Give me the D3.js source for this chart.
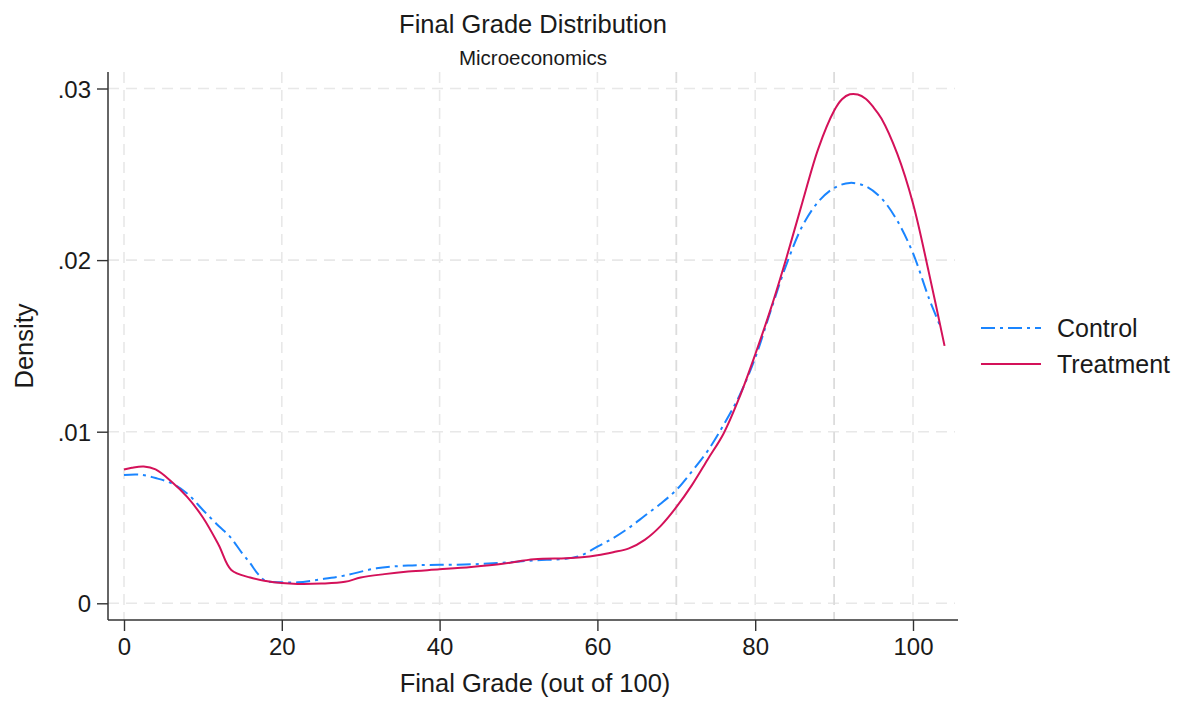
<!DOCTYPE html>
<html>
<head>
<meta charset="utf-8">
<script src="https://cdn.jsdelivr.net/npm/d3@7"></script>
<style>
  body { margin: 0; background: #fff; }
  text { font-family: "Liberation Sans", Arial, sans-serif; fill: #1a1a1a; }
</style>
</head>
<body>
<script>
// values
var xTicks = [0, 20, 40, 60, 80, 100];
var xLines = [70, 90];
var yTicks = [0, 0.01, 0.02, 0.03];
var yTickLabels = ["0", ".01", ".02", ".03"];
var seriesNames = ["Control", "Treatment"];

var controlGrade = [0, 2, 4, 6, 8, 10, 12, 13.4, 15, 16, 17, 18, 20, 22, 25, 28, 32, 36, 40, 44, 48, 52, 56, 58, 60, 62, 64, 66, 68, 70, 72, 74, 76, 78, 80, 82, 84, 86, 88, 90, 92, 94, 96, 98, 100, 102, 103.4];
var controlDensity = [0.00748, 0.0075, 0.0073, 0.0070, 0.0064, 0.00544, 0.0045, 0.0039, 0.0029, 0.00233, 0.0017, 0.0013, 0.00122, 0.00122, 0.0014, 0.00162, 0.00204, 0.0022, 0.00224, 0.00227, 0.00236, 0.0025, 0.0026, 0.0028, 0.0033, 0.0038, 0.0044, 0.0051, 0.0058, 0.0066, 0.0077, 0.0089, 0.0104, 0.0121, 0.0143, 0.0171, 0.0198, 0.0220, 0.0234, 0.0242, 0.0245, 0.0243, 0.0236, 0.0223, 0.0204, 0.0178, 0.0162];

var treatmentGrade = [0, 1, 2.5, 4, 6, 8, 10, 12, 13.6, 16, 18, 20, 22, 25, 28, 30, 33, 36, 40, 44, 48, 52, 56, 58, 60, 62, 64, 66, 68, 70, 72, 74, 76, 78, 80, 82, 84, 86, 88, 90, 91, 92, 93, 94, 95, 96, 98, 100, 102, 104];
var treatmentDensity = [0.0078, 0.0079, 0.00797, 0.0078, 0.0071, 0.0062, 0.0050, 0.0034, 0.00194, 0.0015, 0.0013, 0.00118, 0.00113, 0.00115, 0.00125, 0.0015, 0.0017, 0.00185, 0.00198, 0.00212, 0.0023, 0.00256, 0.00262, 0.00268, 0.0028, 0.00298, 0.0032, 0.0037, 0.0045, 0.0056, 0.0069, 0.0084, 0.0099, 0.0120, 0.0145, 0.0172, 0.0202, 0.0234, 0.0265, 0.0287, 0.02937, 0.02966, 0.02965, 0.0294, 0.0289, 0.02825, 0.0262, 0.0233, 0.0193, 0.0150];

var colors = ["#1a85ff", "#d41159"];
var dashes = ["14,5,3,5", null];

var w = 1182, h = 702;
var box = {left: 108, right: 958, top: 72, bottom: 620};

var svg = d3.select("body").append("svg")
    .attr("width", w)
    .attr("height", h);

var x = d3.scaleLinear().domain([0, 100]).range([124, 913]);
var y = d3.scaleLinear().domain([0, 0.03]).range([603.3, 88.5]);

// grid
svg.append("g").selectAll("line")
    .data(yTicks)
    .enter().append("line")
    .attr("x1", box.left).attr("x2", box.right - 3)
    .attr("y1", d => y(d)).attr("y2", d => y(d))
    .attr("stroke", "#e8e8e8")
    .attr("stroke-width", 1.6)
    .attr("stroke-dasharray", "11,7");

svg.append("g").selectAll("line")
    .data(xTicks)
    .enter().append("line")
    .attr("x1", d => x(d)).attr("x2", d => x(d))
    .attr("y1", box.top).attr("y2", box.bottom)
    .attr("stroke", "#e8e8e8")
    .attr("stroke-width", 1.6)
    .attr("stroke-dasharray", "11,7");

svg.append("g").selectAll("line")
    .data(xLines)
    .enter().append("line")
    .attr("x1", d => x(d)).attr("x2", d => x(d))
    .attr("y1", box.top).attr("y2", box.bottom)
    .attr("stroke", "#dcdcdc")
    .attr("stroke-width", 1.8)
    .attr("stroke-dasharray", "11,7");

// axes
var yAxis = svg.append("g")
    .attr("transform", "translate(" + box.left + ",0)")
    .call(d3.axisLeft(y).tickValues(yTicks).tickFormat((d, i) => yTickLabels[i]).tickSize(11).tickPadding(6).tickSizeOuter(0));
yAxis.select(".domain").remove();
yAxis.selectAll("line").attr("stroke", "#333").attr("stroke-width", 1.4);
yAxis.selectAll("text").style("font-size", "24px").attr("fill", "#1a1a1a").attr("dy", "0.36em");

var xAxis = svg.append("g")
    .attr("transform", "translate(0," + box.bottom + ")")
    .call(d3.axisBottom(x).tickValues(xTicks).tickFormat(d3.format("d")).tickSize(11).tickPadding(7).tickSizeOuter(0));
xAxis.select(".domain").remove();
xAxis.selectAll("line").attr("stroke", "#333").attr("stroke-width", 1.4);
xAxis.selectAll("text").style("font-size", "24px").attr("fill", "#1a1a1a");

svg.append("line")
    .attr("x1", box.left).attr("x2", box.left)
    .attr("y1", box.top).attr("y2", box.bottom)
    .attr("stroke", "#333").attr("stroke-width", 1.5);
svg.append("line")
    .attr("x1", box.left).attr("x2", box.right)
    .attr("y1", box.bottom).attr("y2", box.bottom)
    .attr("stroke", "#333").attr("stroke-width", 1.5);

// density lines
var line = d3.line()
    .x(d => x(d[0]))
    .y(d => y(d[1]))
    .curve(d3.curveCatmullRom.alpha(0.5));

var series = [
  d3.zip(controlGrade, controlDensity),
  d3.zip(treatmentGrade, treatmentDensity)
];

series.forEach(function(s, i) {
  svg.append("path")
      .datum(s)
      .attr("d", line)
      .attr("fill", "none")
      .attr("stroke", colors[i])
      .attr("stroke-width", 2)
      .attr("stroke-dasharray", dashes[i]);
});

// titles
svg.append("text")
    .attr("x", 533).attr("y", 33)
    .attr("text-anchor", "middle")
    .style("font-size", "25.5px")
    .text("Final Grade Distribution");
svg.append("text")
    .attr("x", 533).attr("y", 65)
    .attr("text-anchor", "middle")
    .style("font-size", "20.5px")
    .text("Microeconomics");
svg.append("text")
    .attr("x", 535).attr("y", 692)
    .attr("text-anchor", "middle")
    .style("font-size", "25.5px")
    .text("Final Grade (out of 100)");
svg.append("text")
    .attr("transform", "translate(33,346) rotate(-90)")
    .attr("text-anchor", "middle")
    .style("font-size", "25.5px")
    .text("Density");

// legend
var legend = svg.append("g");
seriesNames.forEach(function(name, i) {
  var ly = 328 + i * 36;
  legend.append("line")
      .attr("x1", 981).attr("x2", 1041)
      .attr("y1", ly).attr("y2", ly)
      .attr("stroke", colors[i])
      .attr("stroke-width", 2)
      .attr("stroke-dasharray", dashes[i]);
  legend.append("text")
      .attr("x", 1057).attr("y", ly + 9)
      .style("font-size", "25px")
      .text(name);
});
</script>
</body>
</html>
